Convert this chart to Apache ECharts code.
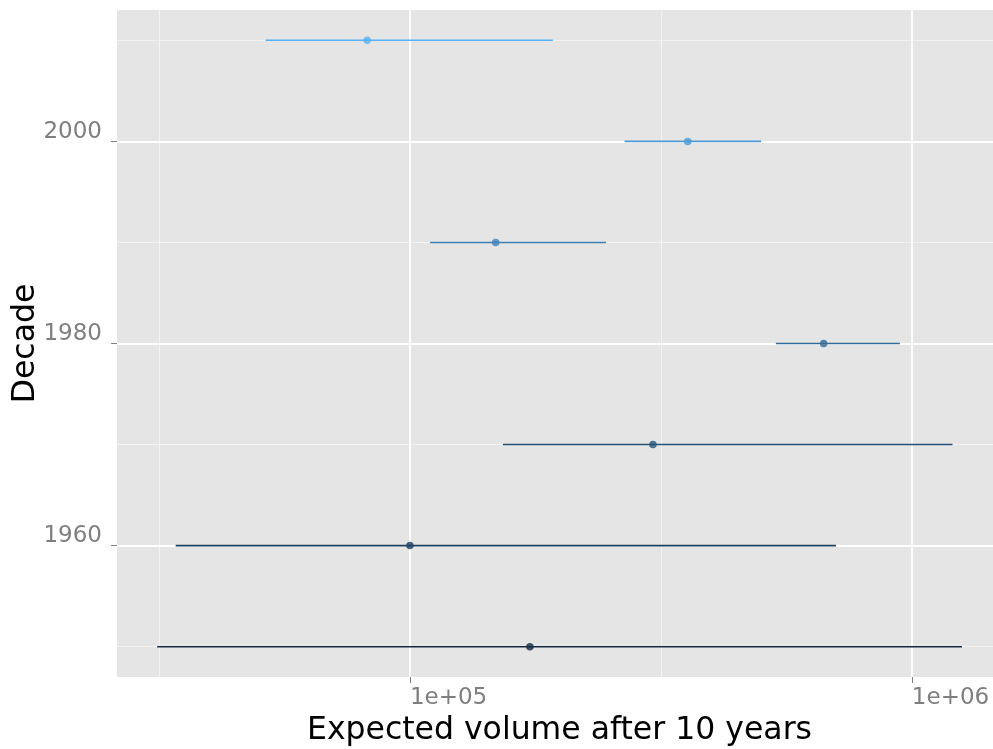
<!DOCTYPE html>
<html>
<head>
<meta charset="utf-8">
<style>
html,body{margin:0;padding:0;background:#fff;}
#chart{width:993px;height:749px;}
</style>
<script src="https://cdn.jsdelivr.net/npm/echarts@6/dist/echarts.min.js"></script>
</head>
<body>
<div id="chart"></div>
<script>
// ---- data ----
const decades  = [1950, 1960, 1970, 1980, 1990, 2000, 2010];
const estimate = [173400, 100000, 304900, 667200, 148200, 357600, 82200];
const lower    = [31370, 34150, 153200, 535900, 109700, 267600, 51580];
const upper    = [1258000, 705800, 1205000, 946400, 245800, 500700, 192600];
const xTickValues = [100000, 1000000];
const yTickValues = [1960, 1980, 2000];
const xMinorGrid  = [31623, 316228];
const yMinorGrid  = [1950, 1970, 1990, 2010];
const xTitle = 'Expected volume after 10 years';
const yTitle = 'Decade';

// ---- colour scale: ggplot default continuous gradient, interpolated in CIELAB ----
const LOW = '#132B43', HIGH = '#56B1F7';
function hex2rgb(h){return [1,3,5].map(i=>parseInt(h.slice(i,i+2),16));}
function s2l(c){c/=255;return c<=0.04045?c/12.92:Math.pow((c+0.055)/1.055,2.4);}
function l2s(c){c=c<=0.0031308?12.92*c:1.055*Math.pow(c,1/2.4)-0.055;return Math.round(Math.max(0,Math.min(1,c))*255);}
const Xn=0.95047,Yn=1,Zn=1.08883,E=216/24389,K=24389/27;
function rgb2lab(rgb){
  const [r,g,b]=rgb.map(s2l);
  const X=(0.4124564*r+0.3575761*g+0.1804375*b)/Xn;
  const Y=(0.2126729*r+0.7151522*g+0.0721750*b)/Yn;
  const Z=(0.0193339*r+0.1191920*g+0.9503041*b)/Zn;
  const f=t=>t>E?Math.cbrt(t):(K*t+16)/116;
  const fx=f(X),fy=f(Y),fz=f(Z);
  return [116*fy-16,500*(fx-fy),200*(fy-fz)];
}
function lab2hex(lab){
  const fy=(lab[0]+16)/116,fx=fy+lab[1]/500,fz=fy-lab[2]/200;
  const fi=f=>{const f3=f*f*f;return f3>E?f3:(116*f-16)/K;};
  const X=fi(fx)*Xn,Y=fi(fy)*Yn,Z=fi(fz)*Zn;
  const r=3.2404542*X-1.5371385*Y-0.4985314*Z;
  const g=-0.9692660*X+1.8760108*Y+0.0415560*Z;
  const b=0.0556434*X-0.2040259*Y+1.0572252*Z;
  return '#'+[r,g,b].map(v=>l2s(v).toString(16).padStart(2,'0')).join('');
}
const labLow=rgb2lab(hex2rgb(LOW)), labHigh=rgb2lab(hex2rgb(HIGH));
const dMin=Math.min(...decades), dMax=Math.max(...decades);
function colorFor(d){
  const t=(d-dMin)/(dMax-dMin);
  return lab2hex(labLow.map((v,i)=>v+(labHigh[i]-v)*t));
}

// ---- series data built from the arrays ----
const barData = decades.map((d,i)=>[lower[i], upper[i], d]);
const pointData = decades.map((d,i)=>({value:[estimate[i], d], itemStyle:{color:colorFor(d)}}));

const FONT = 'DejaVu Sans';
const GREY = '#7F7F7F';

const minorStyle = {color:'#F2F2F2', width:1, type:'solid'};
const majorStyle = {color:'#FFFFFF', width:1.8, type:'solid'};
const gridLines = [
  ...xMinorGrid.map(v=>({xAxis:v, lineStyle:minorStyle})),
  ...yMinorGrid.map(v=>({yAxis:v, lineStyle:minorStyle})),
  ...xTickValues.map(v=>({xAxis:v, lineStyle:majorStyle})),
  ...yTickValues.map(v=>({yAxis:v, lineStyle:majorStyle}))
];

const chart = echarts.init(document.getElementById('chart'), null, {renderer:'canvas'});
chart.setOption({
  animation:false,
  backgroundColor:'#FFFFFF',
  textStyle:{fontFamily:FONT},
  grid:{left:117, right:-9, top:10, bottom:72, show:true, backgroundColor:'#E5E5E5', borderWidth:0,
        containLabel:false, outerBoundsMode:'none'},
  xAxis:{
    type:'log', logBase:10, min:26090, max:1512000,
    name:xTitle, nameLocation:'middle', nameGap:38, nameMoveOverlap:false,
    nameTextStyle:{color:'#000', fontSize:31.5, fontFamily:FONT},
    axisLine:{show:false},
    axisTick:{show:true, length:6, customValues:xTickValues, lineStyle:{color:GREY, width:1}},
    axisLabel:{show:true, customValues:xTickValues, align:'left', margin:10, color:GREY, fontSize:23, fontFamily:FONT,
      formatter:v=>{const e=Math.round(Math.log10(v));return '1e+'+String(e).padStart(2,'0');}},
    splitLine:{show:false}, minorSplitLine:{show:false}
  },
  yAxis:{
    type:'value', min:1947, max:2013,
    name:yTitle, nameLocation:'middle', nameGap:75, nameRotate:90, nameMoveOverlap:false,
    nameTextStyle:{color:'#000', fontSize:31.5, fontFamily:FONT},
    axisLine:{show:false},
    axisTick:{show:true, length:6, customValues:yTickValues, lineStyle:{color:GREY, width:1}},
    axisLabel:{show:true, customValues:yTickValues, margin:15, color:GREY, fontSize:23, fontFamily:FONT,
      verticalAlign:'bottom', lineHeight:19, formatter:v=>String(v)},
    splitLine:{show:false}, minorSplitLine:{show:false}
  },
  series:[
    {
      type:'custom', name:'interval', z:2, silent:true,
      encode:{x:[0,1], y:2},
      data:barData,
      renderItem:(params, api)=>{
        const d = api.value(2);
        const p1 = api.coord([api.value(0), d]);
        const p2 = api.coord([api.value(1), d]);
        return {type:'line', shape:{x1:p1[0], y1:p1[1], x2:p2[0], y2:p2[1]},
          style:{stroke:colorFor(d), lineWidth:1.6}};
      },
      markLine:{silent:true, z:1, symbol:['none','none'], label:{show:false}, animation:false,
        lineStyle:{type:'solid'}, data:gridLines}
    },
    {
      type:'scatter', name:'estimate', z:3, silent:true,
      symbol:'circle', symbolSize:7.5,
      data:pointData
    }
  ]
});
</script>
</body>
</html>
